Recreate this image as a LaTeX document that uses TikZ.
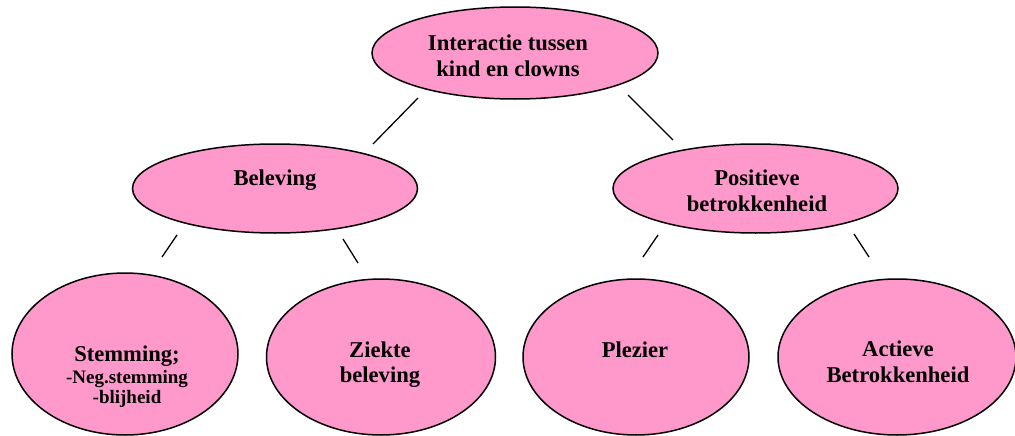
\documentclass[tikz,border=0pt]{standalone}
\usepackage{fontspec}
\setmainfont{Liberation Serif}
\usetikzlibrary{shapes.geometric}
\definecolor{pinkfill}{HTML}{FF99CC}
\tikzset{
  bubble/.style={shape=ellipse, draw=black, line width=1.5pt, fill=pinkfill, inner sep=0pt},
  lbl/.style={anchor=base, inner sep=0pt, font=\bfseries\fontsize{22.6}{26}\selectfont},
  conn/.style={draw=black, line width=1.3pt}
}
\newcommand{\sublines}{\fontsize{19}{26}\selectfont}
\begin{document}
\begin{tikzpicture}[x=1pt,y=-1pt]
\useasboundingbox (0,0) rectangle (1015,436);
% ellipses
\node[bubble, minimum width=286pt, minimum height=92pt] (root) at (515,53) {};
\node[bubble, minimum width=285pt, minimum height=89pt] (bel) at (275,188.5) {};
\node[bubble, minimum width=285pt, minimum height=89pt] (pos) at (755.5,188.5) {};
\node[bubble, minimum width=226pt, minimum height=162pt] (stem) at (125,354) {};
\node[bubble, minimum width=229pt, minimum height=156pt] (ziek) at (381,357) {};
\node[bubble, minimum width=226pt, minimum height=156pt] (plez) at (636,357) {};
\node[bubble, minimum width=238pt, minimum height=156pt] (act) at (897,357) {};
% labels
\node[lbl] (rootT) at (508,51) {\begin{tabular}[t]{@{}c@{}}Interactie tussen\\kind en clowns\end{tabular}};
\node[lbl] (belT) at (275,185) {Beleving};
\node[lbl] (posT) at (757,185) {\begin{tabular}[t]{@{}c@{}}Positieve\\betrokkenheid\end{tabular}};
\node[lbl] (stemT) at (127,361) {\begin{tabular}[t]{@{}c@{}}Stemming;\\[-4pt]{\sublines -Neg.stemming}\\[-6pt]{\sublines -blijheid}\end{tabular}};
\node[lbl] (ziekT) at (380,357) {\begin{tabular}[t]{@{}c@{}}Ziekte\\[-1pt]beleving\end{tabular}};
\node[lbl] (plezT) at (635,357) {Plezier};
\node[lbl] (actT) at (898,356) {\begin{tabular}[t]{@{}c@{}}Actieve\\Betrokkenheid\end{tabular}};
% connector end points
\coordinate (rb1) at (418,98);  \coordinate (rb2) at (373,144);
\coordinate (rp1) at (628,95);  \coordinate (rp2) at (673,140);
\coordinate (bs1) at (177,235); \coordinate (bs2) at (162,257);
\coordinate (bz1) at (343,239); \coordinate (bz2) at (358,263);
\coordinate (pp1) at (658,235); \coordinate (pp2) at (643,257);
\coordinate (pa1) at (854,234); \coordinate (pa2) at (869,257);
\draw[conn] (rb1) -- (rb2);
\draw[conn] (rp1) -- (rp2);
\draw[conn] (bs1) -- (bs2);
\draw[conn] (bz1) -- (bz2);
\draw[conn] (pp1) -- (pp2);
\draw[conn] (pa1) -- (pa2);
\end{tikzpicture}
\end{document}
